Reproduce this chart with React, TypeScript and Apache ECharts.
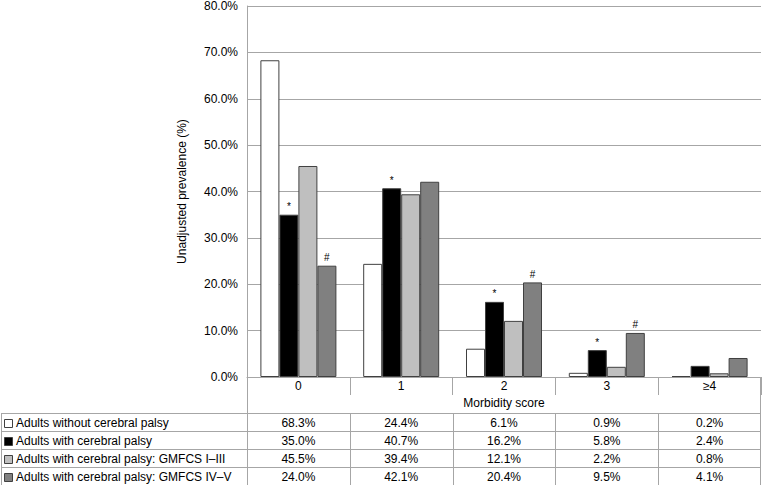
import React, { useEffect, useRef } from "react";
import * as echarts from "echarts";

const categories = ["0", "1", "2", "3", "≥4"];
const seriesNames = [
  "Adults without cerebral palsy",
  "Adults with cerebral palsy",
  "Adults with cerebral palsy: GMFCS I–III",
  "Adults with cerebral palsy: GMFCS IV–V",
];
const withoutCP = [68.3, 24.4, 6.1, 0.9, 0.2];
const withCP = [35.0, 40.7, 16.2, 5.8, 2.4];
const gmfcsI_III = [45.5, 39.4, 12.1, 2.2, 0.8];
const gmfcsIV_V = [24.0, 42.1, 20.4, 9.5, 4.1];
const withCPMarks = ["*", "*", "*", "*", ""];
const gmfcsIVMarks = ["#", "", "#", "#", ""];
const yTicks = [0, 10, 20, 30, 40, 50, 60, 70, 80];

const colors = ["#ffffff", "#000000", "#bfbfbf", "#808080"];
const FONT = "Liberation Sans, Arial, sans-serif";
const LINE = "#a6a6a6";

export default function App() {
  const ref = useRef<HTMLDivElement>(null);
  useEffect(() => {
    document.body.style.margin = "0";
    const chart = echarts.init(ref.current!, undefined, { renderer: "svg" });
    const allData = [withoutCP, withCP, gmfcsI_III, gmfcsIV_V];
    const marks: (string[] | null)[] = [null, withCPMarks, null, gmfcsIVMarks];
    const option: any = {
      animation: false,
      textStyle: { fontFamily: FONT },
      grid: { left: 247, right: 1, top: 6, bottom: 108 },
      xAxis: {
        type: "category",
        data: categories,
        name: "Morbidity score",
        nameLocation: "middle",
        nameGap: 17,
        nameTextStyle: { fontSize: 12, color: "#000", fontFamily: FONT },
        axisLine: { lineStyle: { color: LINE, width: 1 } },
        axisTick: { show: true, length: 18, lineStyle: { color: LINE } },
        axisLabel: { fontSize: 12, color: "#000", margin: 3, fontFamily: FONT },
      },
      yAxis: {
        type: "value",
        min: yTicks[0],
        max: yTicks[yTicks.length - 1],
        interval: 10,
        name: "Unadjusted prevalence (%)",
        nameLocation: "middle",
        nameGap: 59,
        nameTextStyle: { fontSize: 12, color: "#000", fontFamily: FONT },
        axisLine: { show: true, lineStyle: { color: LINE } },
        axisTick: { show: false },
        splitLine: { lineStyle: { color: LINE, width: 1 } },
        axisLabel: {
          fontSize: 12,
          color: "#000",
          margin: 9,
          fontFamily: FONT,
          formatter: (v: number) => v.toFixed(1) + "%",
        },
      },
      series: allData.map((d, i) => ({
        type: "bar",
        name: seriesNames[i],
        data: d,
        barWidth: 19,
        barGap: "0%",
        itemStyle: { color: colors[i], borderColor: "#404040", borderWidth: 1 },
        label: marks[i]
          ? {
              show: true,
              position: "top",
              distance: 3,
              fontSize: 10,
              color: "#000",
              fontFamily: FONT,
              formatter: (p: any) => (marks[i] as string[])[p.dataIndex],
            }
          : { show: false },
      })),
    };
    chart.setOption(option);

    // Build the data table below the chart, using the axis scale for columns
    const centers = categories.map((c) => chart.convertToPixel({ xAxisIndex: 0 }, c) as number);
    const half = (centers[1] - centers[0]) / 2;
    const left0 = 1;
    const colStart = centers[0] - half;
    const colEnd = centers[centers.length - 1] + half;
    const tableTop = 413;
    const rowH = 18;
    const zeroY = chart.convertToPixel({ yAxisIndex: 0 }, 0) as number;
    const tableBottom = tableTop + seriesNames.length * rowH;
    const g: any[] = [];
    const ls = { stroke: LINE, lineWidth: 1 };
    for (let r = 0; r <= seriesNames.length; r++) {
      const y = Math.round(tableTop + r * rowH) + 0.5;
      g.push({ type: "line", shape: { x1: left0, y1: y, x2: colEnd, y2: y }, style: ls, silent: true });
    }
    g.push({ type: "line", shape: { x1: left0 + 0.5, y1: tableTop, x2: left0 + 0.5, y2: tableBottom }, style: ls });
    g.push({
      type: "line",
      shape: { x1: Math.round(colStart) + 0.5, y1: zeroY, x2: Math.round(colStart) + 0.5, y2: tableBottom },
      style: ls,
    });
    g.push({
      type: "line",
      shape: { x1: Math.round(colEnd) - 0.5, y1: zeroY, x2: Math.round(colEnd) - 0.5, y2: tableBottom },
      style: ls,
    });
    for (let c = 1; c < categories.length; c++) {
      const x = Math.round(centers[c] - half) + 0.5;
      g.push({ type: "line", shape: { x1: x, y1: tableTop, x2: x, y2: tableBottom }, style: ls });
    }
    seriesNames.forEach((name, r) => {
      const cy = tableTop + r * rowH + rowH / 2 + 0.5;
      g.push({
        type: "rect",
        shape: { x: 4.5, y: Math.round(cy - 4) + 0.5, width: 8, height: 8 },
        style: { fill: colors[r], stroke: "#404040", lineWidth: 1 },
      });
      g.push({
        type: "text",
        x: 16,
        y: cy,
        style: { text: name, fontSize: 12, fill: "#000", fontFamily: FONT, verticalAlign: "middle", textAlign: "left" },
      });
      allData[r].forEach((v, c) => {
        g.push({
          type: "text",
          x: centers[c],
          y: cy,
          style: {
            text: v.toFixed(1) + "%",
            fontSize: 12,
            fill: "#000",
            fontFamily: FONT,
            verticalAlign: "middle",
            textAlign: "center",
          },
        });
      });
    });
    chart.setOption({ graphic: { elements: g } });
    return () => chart.dispose();
  }, []);
  return <div ref={ref} style={{ width: 762, height: 485 }} />;
}
